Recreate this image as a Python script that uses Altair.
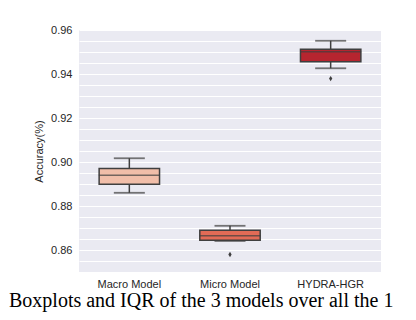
import altair as alt
import pandas as pd

models = ["Macro Model", "Micro Model", "HYDRA-HGR"]
whisker_low = [0.8860, 0.8641, 0.9426]
q1 = [0.8899, 0.8644, 0.9456]
median = [0.8940, 0.8665, 0.9501]
q3 = [0.8971, 0.8690, 0.9512]
whisker_high = [0.9017, 0.8710, 0.9551]
box_colors = ["#f1bea9", "#e26b56", "#b6252f"]

outlier_models = ["Micro Model", "HYDRA-HGR"]
outlier_values = [0.8580, 0.9379]

y_ticks = [round(0.85 + 0.005 * i, 3) for i in range(23)]
caption = "Boxplots and IQR of the 3 models over all the 1"

df = pd.DataFrame({
    "model": models, "lo": whisker_low, "q1": q1, "med": median,
    "q3": q3, "hi": whisker_high, "color": box_colors,
})
df_out = pd.DataFrame({"model": outlier_models, "value": outlier_values})

line = "#3f3f3f"
xenc = alt.X("model:N", sort=models, title=None,
             scale=alt.Scale(paddingInner=0, paddingOuter=0),
             axis=alt.Axis(labelAngle=0, ticks=False, domain=False, grid=False,
                           labelFont="Liberation Sans", labelFontSize=11,
                           labelColor="#262626", labelPadding=6))
yscale = alt.Scale(domain=[0.85, 0.96], nice=False, zero=False)
yaxis = alt.Axis(values=y_ticks, ticks=False, domain=False, grid=True,
                 gridColor="white", gridWidth=1,
                 labelExpr="abs(datum.value*50 - round(datum.value*50)) < 0.001 ? format(datum.value, '.2f') : ''",
                 labelFont="Liberation Sans", labelFontSize=11, labelColor="#262626",
                 labelPadding=7, title="Accuracy(%)", titleFont="Liberation Sans",
                 titleFontSize=11, titleFontWeight="normal", titleColor="#262626",
                 titlePadding=6)

base = alt.Chart(df)

whisk_low = base.mark_rule(color=line, strokeWidth=1.5).encode(
    x=xenc, y=alt.Y("lo:Q", scale=yscale, axis=yaxis), y2="q1:Q")
whisk_high = base.mark_rule(color=line, strokeWidth=1.5).encode(
    x=xenc, y=alt.Y("q3:Q", scale=yscale, axis=yaxis), y2="hi:Q")
box = base.mark_bar(width={"band": 0.6}, stroke=line, strokeWidth=1.5).encode(
    x=xenc, y=alt.Y("q1:Q", scale=yscale, axis=yaxis), y2="q3:Q",
    color=alt.Color("color:N", scale=None))
med = base.mark_tick(color=line, thickness=1.5, size=61, orient="horizontal").encode(
    x=xenc, y=alt.Y("med:Q", scale=yscale, axis=yaxis))
cap_lo = base.mark_tick(color=line, thickness=1.8, size=31, orient="horizontal").encode(
    x=xenc, y=alt.Y("lo:Q", scale=yscale, axis=yaxis))
cap_hi = base.mark_tick(color=line, thickness=1.8, size=31, orient="horizontal").encode(
    x=xenc, y=alt.Y("hi:Q", scale=yscale, axis=yaxis))
outl = alt.Chart(df_out).mark_point(
    shape="M0,-1L0.6,0L0,1L-0.6,0Z", filled=True, color=line, opacity=1, size=30
).encode(x=xenc, y=alt.Y("value:Q", scale=yscale, axis=yaxis))

cap_text = alt.Chart(pd.DataFrame({"t": [caption]})).mark_text(
    font="Liberation Serif", fontSize=20, color="#000000", align="left",
    baseline="alphabetic"
).encode(x=alt.value(-70), y=alt.value(277), text="t:N")

chart = alt.layer(whisk_low, whisk_high, box, med, cap_lo, cap_hi, outl, cap_text).properties(
    width=302, height=242,
    autosize="none",
    padding={"left": 71, "top": 22, "right": 27, "bottom": 40},
).configure_view(fill="#eaeaf2", stroke=None)

chart.save("out.html", embed_options={"renderer": "svg", "actions": False})
